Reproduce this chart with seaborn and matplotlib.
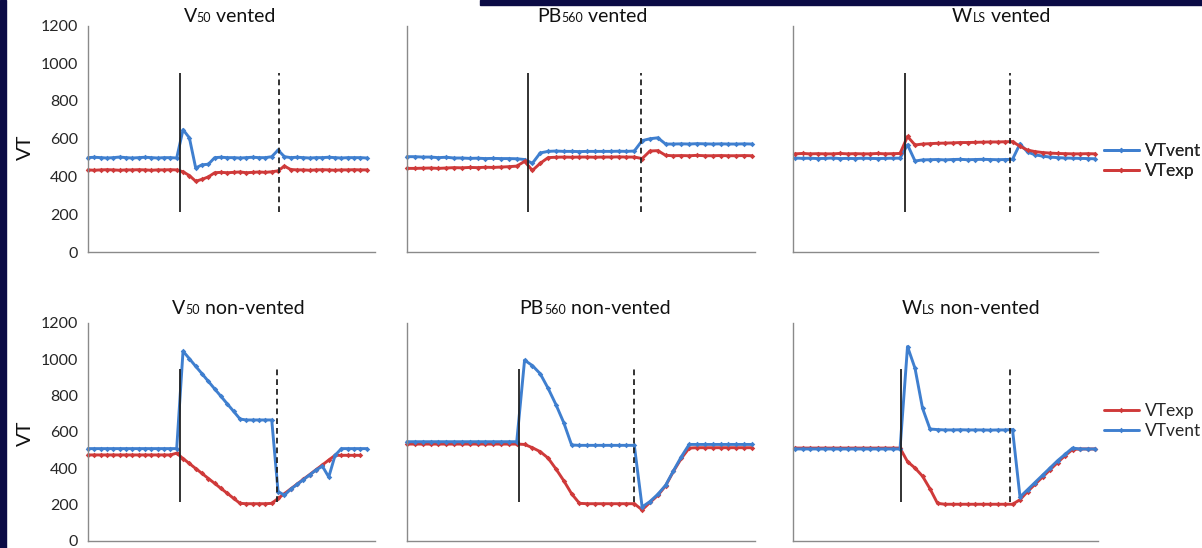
import numpy as np
import pandas as pd
import matplotlib
matplotlib.use("Agg")
import matplotlib.pyplot as plt
import seaborn as sns
from matplotlib.offsetbox import TextArea, HPacker, AnnotationBbox
from matplotlib.lines import Line2D
from matplotlib.patches import Rectangle

sns.set_style("white")
plt.rcParams['font.family'] = ['Lato', 'DejaVu Sans']

# ---------------- data ----------------
v50_vented_vent = [500,502,500,498,500,503,500,498,500,502,500,498,500,500,498,
                   648,605,445,462,465,
                   500,502,500,500,498,500,502,500,500,505,
                   540,505,
                   500,502,500,498,500,500,502,500,498,500,500,500,498]
v50_vented_exp = [435,433,435,436,435,433,435,435,436,435,433,435,435,436,435,
                  425,405,375,385,398,
                  420,422,420,422,424,420,422,424,422,425,
                  430,455,
                  437,435,435,433,435,436,435,433,435,435,436,435,435]

pb_vented_vent = [505,505,503,503,500,502,498,498,496,497,495,496,495,495,494,
                  490,470,525,
                  533,535,533,533,532,533,533,533,533,534,533,535,
                  590,600,605,572,
                  572,573,572,574,573,572,573,572,572,573,572]
pb_vented_exp = [443,443,444,445,443,445,447,446,448,447,449,448,450,452,455,
                 480,432,470,
                 500,502,503,502,503,503,502,503,503,504,503,503,
                 495,535,537,512,
                 510,511,510,512,510,510,511,510,510,511,510]

wls_vented_vent = [498,496,497,495,496,498,495,496,495,497,496,495,496,497,497,
                   568,482,
                   488,489,490,488,490,491,489,490,491,490,489,490,491,
                   573,530,515,508,503,
                   500,498,497,496,495,494]
wls_vented_exp = [520,522,520,521,520,520,522,520,521,520,520,522,520,521,522,
                  612,567,
                  572,574,576,577,578,580,580,581,582,583,583,584,585,
                  560,540,532,527,524,
                  522,521,520,520,521,520]

v50_nonv_vent = [507,507,507,507,507,507,507,507,507,507,507,507,507,507,507,
                 1045,1003,961,920,878,836,795,753,712,670,
                 665,665,665,665,665,
                 270,250,283,309,336,362,389,410,
                 350,470,
                 507,507,507,507,507]
v50_nonv_exp = [472,472,472,472,472,472,472,472,472,472,472,472,472,472,482,
                452,425,397,370,342,315,287,260,232,205,
                203,203,203,203,205,
                232,258,285,311,338,364,391,417,444,470,
                470,470,470,470,np.nan]

pb_nonv_vent = [545,545,545,545,545,545,545,545,545,545,545,545,545,545,545,
                995,965,920,840,750,650,527,
                525,525,525,525,525,525,525,525,
                185,215,255,305,385,462,530,
                530,530,530,530,530,530,530,530]
pb_nonv_exp = [532,532,532,532,532,532,532,532,532,532,532,532,532,532,532,
               530,512,490,455,395,330,258,205,
               203,203,203,203,203,203,203,
               169,210,249,302,382,453,510,
               512,512,512,512,512,512,512,512]

wls_nonv_vent = [505,505,505,505,505,505,505,505,505,505,505,505,505,505,505,
                 1070,950,730,615,
                 612,610,610,611,610,610,610,609,610,610,612,
                 240,280,320,360,400,440,475,510,
                 505,505,505]
wls_nonv_exp = [510,510,510,510,510,510,510,510,510,510,510,510,510,510,510,
                435,400,355,285,205,
                200,200,200,200,200,200,200,200,200,200,
                225,270,310,350,390,430,468,502,
                505,505,505]

y_ticks = [0, 200, 400, 600, 800, 1000, 1200]
series_names = ["VTvent", "VTexp"]
# event markers (breath index): solid = start, dashed = end
solid_idx = {"v50v": 14.5, "pbv": 15.5, "wlsv": 14.6, "v50n": 14.5, "pbn": 14.3, "wlsn": 14.1}
dashed_idx = {"v50v": 30.1, "pbv": 29.9, "wlsv": 28.6, "v50n": 29.9, "pbn": 29.0, "wlsn": 28.7}
event_span = [210, 948]

BLUE = "#3f7fcf"
RED = "#cf3a3a"

W, H = 1202, 548
fig = plt.figure(figsize=(W / 100, H / 100), dpi=100)
fig.patch.set_facecolor("white")

def px_rect(x0, x1, ytop, ybot):
    return [x0 / W, 1 - ybot / H, (x1 - x0) / W, (ybot - ytop) / H]

cols = {"v50": (88, 375, 0.0, 45.3), "pb": (407, 755, 0.0, 44.4), "wls": (793, 1098, -0.27, 40.4)}
rows = {"top": (25.5, 252.0), "bot": (323.0, 540.5)}

panels = [
    ("v50v", "v50", "top", v50_vented_vent, v50_vented_exp, "red_on_top", ("V", "50", " vented"), 229.5),
    ("pbv", "pb", "top", pb_vented_vent, pb_vented_exp, "red_on_top", ("PB", "560", " vented"), 592.5),
    ("wlsv", "wls", "top", wls_vented_vent, wls_vented_exp, "red_on_top", ("W", "LS", " vented"), 1001),
    ("v50n", "v50", "bot", v50_nonv_vent, v50_nonv_exp, "blue_on_top", ("V", "50", " non-vented"), 238),
    ("pbn", "pb", "bot", pb_nonv_vent, pb_nonv_exp, "blue_on_top", ("PB", "560", " non-vented"), 595),
    ("wlsn", "wls", "bot", wls_nonv_vent, wls_nonv_exp, "blue_on_top", ("W", "LS", " non-vented"), 971),
]

line_kw = dict(linewidth=2.1, marker="D", markersize=2.8, markeredgewidth=0)

for key, col, row, vent, exp, order, ttl, tx in panels:
    x0, x1, xl0, xl1 = cols[col]
    ytop, ybot = rows[row]
    ax = fig.add_axes(px_rect(x0, x1, ytop, ybot))
    df = pd.DataFrame({"breath": np.arange(len(vent)), "VTvent": vent, "VTexp": exp})
    seq = [("VTvent", BLUE), ("VTexp", RED)] if order == "red_on_top" else [("VTexp", RED), ("VTvent", BLUE)]
    for name, c in seq:
        d = df[["breath", name]].dropna()
        sns.lineplot(data=d, x="breath", y=name, ax=ax, color=c, estimator=None, **line_kw)
    for ln in ax.lines:
        ln.set_clip_on(False)
    ax.vlines([solid_idx[key]], event_span[0], event_span[1], colors="#222222", linewidth=1.3)
    ax.vlines([dashed_idx[key]], event_span[0], event_span[1], colors="#222222", linewidth=1.3,
              linestyles=(0, (3.2, 2.2)))
    ax.set_xlim(xl0, xl1)
    ax.set_ylim(0, 1200)
    ax.set_xticks([])
    ax.set_xlabel("")
    ax.set_ylabel("")
    for s in ["top", "right"]:
        ax.spines[s].set_visible(False)
    for s in ["left", "bottom"]:
        ax.spines[s].set_color("#8a8a8a")
        ax.spines[s].set_linewidth(1.0)
    if col == "v50":
        ax.set_yticks(y_ticks)
        ax.set_yticklabels([str(t) for t in y_ticks])
        ax.tick_params(axis="y", length=0, pad=7, labelsize=11.5, labelcolor="#262626")
    else:
        ax.set_yticks([])
    # title with small-size part on the baseline
    parts = [TextArea(ttl[0], textprops=dict(fontsize=14, color="#111111")),
             TextArea(ttl[1], textprops=dict(fontsize=9, color="#111111")),
             TextArea(ttl[2], textprops=dict(fontsize=14, color="#111111"))]
    box = HPacker(children=parts, align="baseline", pad=0, sep=0)
    ty = 532 if row == "top" else 239.5
    ab = AnnotationBbox(box, (tx, ty), xycoords="figure pixels", frameon=False,
                        box_alignment=(0.5, 0.5))
    fig.add_artist(ab)

# y-axis titles
fig.text(25.5 / W, 1 - 147 / H, "VT", rotation=90, fontsize=14.5, ha="center", va="center", color="#111111")
fig.text(25.5 / W, 1 - 433 / H, "VT", rotation=90, fontsize=14.5, ha="center", va="center", color="#111111")

# legends
def make_handle(c):
    return Line2D([], [], color=c, **line_kw)

leg_kw = dict(frameon=False, fontsize=12.5, handlelength=2.0, handletextpad=0.35,
              labelspacing=0.2, borderaxespad=0, borderpad=0, loc="center left")
l1 = fig.legend([make_handle(BLUE), make_handle(RED)], ["VTvent", "VTexp"],
                bbox_to_anchor=(1104 / W, 1 - 161 / H), **leg_kw)
fig.add_artist(l1)
fig.legend([make_handle(RED), make_handle(BLUE)], ["VTexp", "VTvent"],
           bbox_to_anchor=(1104 / W, 1 - 421 / H), **leg_kw)

# slide decorations (dark navy frame pieces)
fig.patches.append(Rectangle((0, 0), 6 / W, 1, transform=fig.transFigure, color="#0b0b45", zorder=10))
fig.patches.append(Rectangle((480 / W, 1 - 5 / H), 1, 5 / H, transform=fig.transFigure, color="#0b0b45", zorder=10))

fig.savefig("out.png", dpi=100)
